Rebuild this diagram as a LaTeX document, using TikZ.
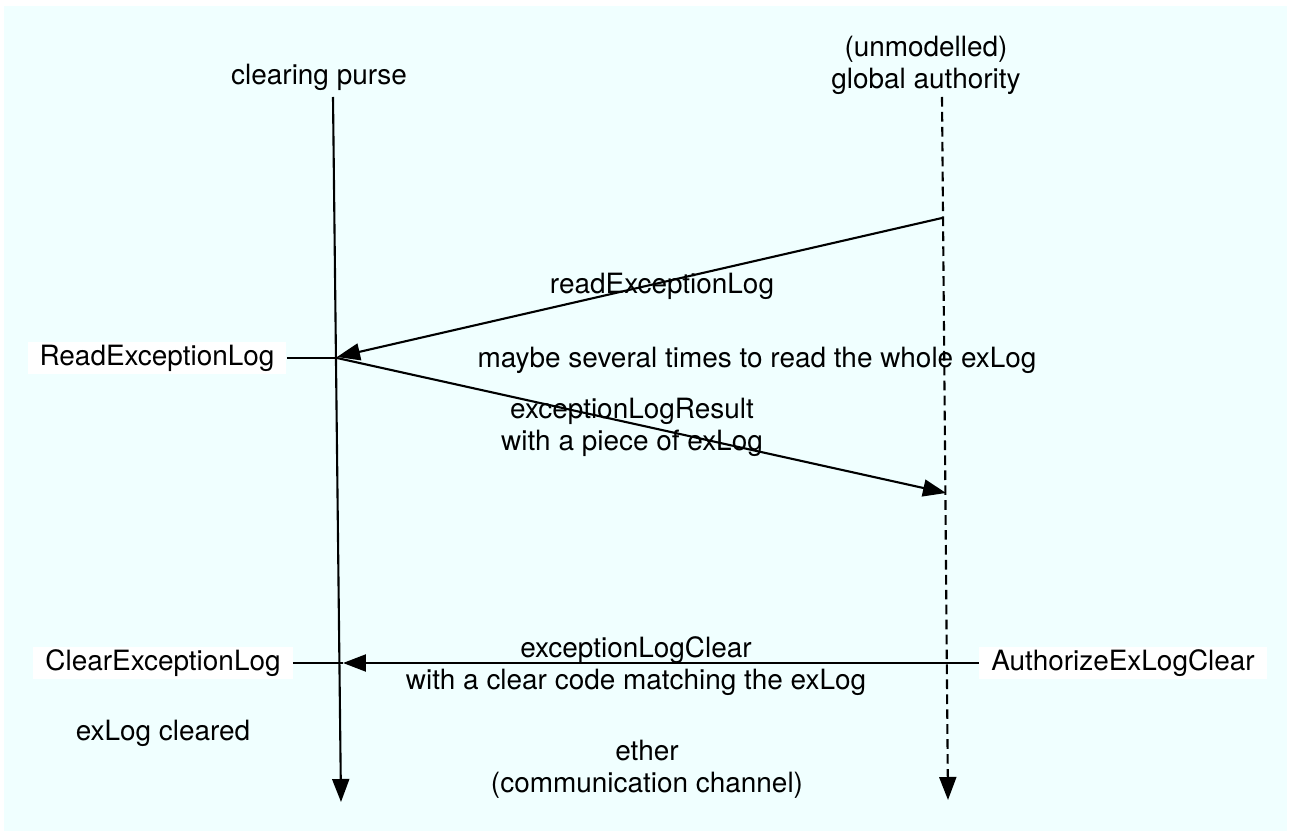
\documentclass[tikz,border=0pt]{standalone}
\usepackage{fontspec}
\setmainfont{TeX Gyre Heros}
\usetikzlibrary{arrows.meta}
\definecolor{etherbg}{RGB}{240,255,255}
\tikzset{
  msg/.style={line width=1.2pt, -{Triangle[length=4.6mm,width=3.4mm]}},
  lifeline/.style={line width=1.2pt, -{Triangle[length=4.6mm,width=3.4mm]}},
  opbox/.style={fill=white, inner xsep=0.24cm, inner ysep=0pt, minimum height=0.64cm},
  lbl/.style={align=center}
}
\begin{document}
\begin{tikzpicture}[x=0.02cm, y=-0.02cm, font=\fontsize{15.9}{18.1}\selectfont]
\useasboundingbox (0,0) rectangle (1289,834);
\fill[etherbg] (4,6) rectangle (1287,831);

\coordinate (purseTop) at (333,97);
\coordinate (purseEnd) at (341,802);
\coordinate (authTop) at (942,97);
\coordinate (authEnd) at (948,800);
\coordinate (askStart) at (942,218);
\coordinate (askEnd) at (337,357);
\coordinate (ansStart) at (337,358);
\coordinate (ansEnd) at (946,493);
\coordinate (clearEnd) at (343,663);

\node (purse) at (319,77) {clearing purse};
\node[lbl] (auth) at (926,65) {(unmodelled)\\global authority};

\draw[lifeline] (purseTop) -- (purseEnd);
\draw[lifeline, dash pattern=on 5.5pt off 3pt] (authTop) -- (authEnd);

\node[opbox] (readOp) at (157,358) {ReadExceptionLog};
\node[opbox] (clearOp) at (163,663) {ClearExceptionLog};
\node[opbox] (authOp) at (1123,663) {AuthorizeExLogClear};

\draw[line width=1.2pt] (readOp.east) -- (ansStart);
\draw[line width=1.2pt] (clearOp.east) -- (clearEnd);

\draw[msg] (askStart) -- (askEnd);
\draw[msg] (ansStart) -- (ansEnd);
\draw[msg] (authOp.west) -- (clearEnd);

\node (askLbl) at (662,286) {readExceptionLog};
\node (loopLbl) at (757,360) {maybe several times to read the whole exLog};
\node[lbl] (ansLbl) at (632,427) {exceptionLogResult\\with a piece of exLog};
\node[lbl] (clearLbl) at (636,666) {exceptionLogClear\\with a clear code matching the exLog};
\node (doneLbl) at (163,733) {exLog cleared};
\node[lbl] (ether) at (647,769) {ether\\(communication channel)};
\end{tikzpicture}
\end{document}
